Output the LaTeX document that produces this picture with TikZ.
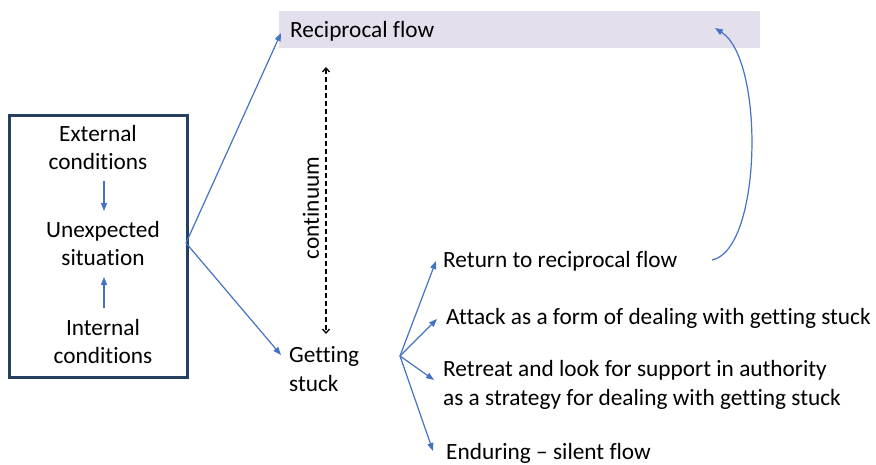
\documentclass[tikz,border=0pt]{standalone}
\usepackage{fontspec}
\setmainfont[Ligatures=NoCommon]{Carlito}
\usetikzlibrary{arrows.meta}
\definecolor{boxblue}{HTML}{243F60}
\definecolor{arrblue}{HTML}{4472C4}
\definecolor{lav}{HTML}{E4DFEC}
\begin{document}
\begin{tikzpicture}[x=1pt,y=-1pt,
  txt/.style={font=\fontsize{23.3}{28}\selectfont, inner sep=0pt, align=center},
  ltxt/.style={font=\fontsize{23.3}{28.5}\selectfont, inner sep=0pt, anchor=west, align=left},
  barr/.style={draw=arrblue, line width=1.2pt, -{Triangle[length=8pt,width=6pt]}},
  darr/.style={draw=black, line width=1.3pt, dash pattern=on 5pt off 3pt, {Straight Barb[length=4pt,width=7pt]}-{Straight Barb[length=4pt,width=7pt]}}]
\useasboundingbox (0,0) rectangle (876,464);
% left box
\draw[boxblue, line width=3pt] (9,115) rectangle (187,377);
\node[txt] (ext) at (98,147) {External\\conditions};
\node[txt] (unx) at (103,243) {Unexpected\\situation};
\node[txt] (int) at (103,341) {Internal\\conditions};
\coordinate (a1s) at (104,181);
\coordinate (a1e) at (104,211);
\coordinate (a2s) at (104,308);
\coordinate (a2e) at (104,277);
\draw[barr] (a1s) -- (a1e);
\draw[barr] (a2s) -- (a2e);
% top bar
\fill[lav] (279,11) rectangle (760,48);
\node[ltxt] (rec) at (290,31) {Reciprocal flow};
% branch 1
\coordinate (b1) at (186,243);
\coordinate (t1) at (281,33);
\coordinate (t2) at (281,355);
\draw[barr] (b1) -- (t1);
\draw[barr] (b1) -- (t2);
% continuum
\coordinate (c1) at (326,67);
\coordinate (c2) at (326,334);
\draw[darr] (c1) -- (c2);
\node[txt, rotate=90] (cont) at (311,208) {continuum};
% getting stuck
\node[ltxt] (gs) at (289,369) {Getting\\stuck};
\coordinate (b2) at (400,356);
\coordinate (e1) at (436,261);
\coordinate (e2) at (437,319);
\coordinate (e3) at (434,380);
\coordinate (e4) at (433,451);
\draw[barr] (b2) -- (e1);
\draw[barr] (b2) -- (e2);
\draw[barr] (b2) -- (e3);
\draw[barr] (b2) -- (e4);
\node[ltxt] (r1) at (443,261) {Return to reciprocal flow};
\node[ltxt] (r2) at (446,318) {Attack as a form of dealing with getting stuck};
\node[ltxt] (r3) at (443,385) {Retreat and look for support in authority\\as a strategy for dealing with getting stuck};
\node[ltxt] (r4) at (446,453) {Enduring – silent flow};
% return curve
\coordinate (cs) at (712,260);
\coordinate (ce) at (715,28);
\draw[barr] (cs) .. controls (762,250) and (765,60) .. (ce);
\end{tikzpicture}
\end{document}
